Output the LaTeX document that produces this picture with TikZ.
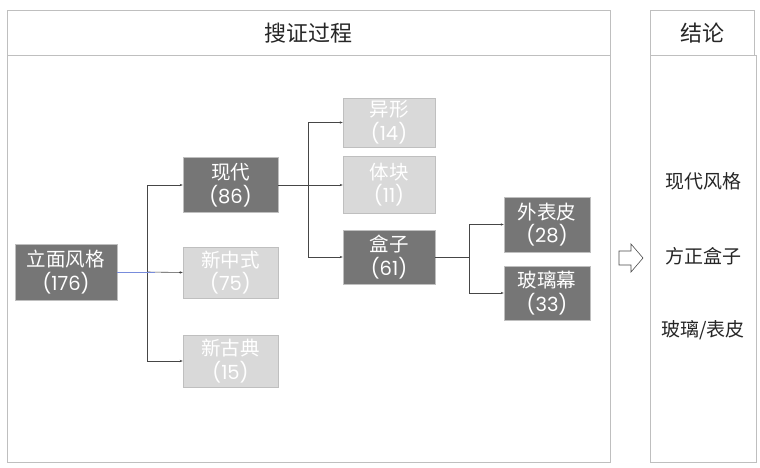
\documentclass[tikz,border=0pt]{standalone}
\usepackage{fontspec}
\setmainfont{Noto Sans CJK SC}
\newfontfamily\numfont{Poppins}
\usepackage{tikz}
\usetikzlibrary{arrows.meta,positioning,calc}
\definecolor{boxdark}{RGB}{118,118,118}
\definecolor{boxlight}{RGB}{217,217,217}
\definecolor{panelline}{RGB}{191,191,191}
\definecolor{linkgray}{RGB}{70,70,70}
\definecolor{linkblue}{RGB}{120,140,220}

\tikzset{
  stylebox/.style={draw=panelline, line width=0.6pt, text=white, align=center,
    font=\fontsize{19.5}{23.5}\selectfont, inner sep=0pt},
  darkbox/.style={stylebox, fill=boxdark},
  lightbox/.style={stylebox, fill=boxlight},
  link/.style={draw=linkgray, line width=0.6pt, -{Stealth[length=3pt,width=2.4pt]}},
  panel/.style={draw=panelline, line width=0.8pt},
}

\begin{document}
\begin{tikzpicture}[x=1pt, y=-1pt]
        \useasboundingbox (0,0) rectangle (760,468);
        \fill[white] (0,0) rectangle (760,468);

        % Panels
        \draw[panel] (7,10) rectangle (610,462);
        \draw[panel] (7,55) -- (610,55);
        \node[font=\fontsize{22}{26}\selectfont, text=black!85] (ttlproc) at (308,33) {搜证过程};
        \draw[panel] (650,10) rectangle (754,55);
        \draw[panel] (650,55) rectangle (756,462);
        \node[font=\fontsize{22}{26}\selectfont, text=black!85] (ttlconc) at (702,33) {结论};

        % Style tree
        \node[darkbox, minimum width=102pt, minimum height=56pt] (root) at (66,272) {立面风格\\{\numfont(176)}};
        \node[darkbox, minimum width=95pt, minimum height=55pt] (xiandai) at (230.5,185) {现代\\{\numfont(86)}};
        \node[lightbox, minimum width=95pt, minimum height=51pt] (xinzhong) at (230.5,272.5) {新中式\\{\numfont(75)}};
        \node[lightbox, minimum width=95pt, minimum height=52pt] (xingu) at (230.5,361) {新古典\\{\numfont(15)}};
        \node[lightbox, minimum width=92pt, minimum height=49pt] (yixing) at (389,122.5) {异形\\{\numfont(14)}};
        \node[lightbox, minimum width=92pt, minimum height=57pt] (tikuai) at (389,184.5) {体块\\{\numfont(11)}};
        \node[darkbox, minimum width=92pt, minimum height=54pt] (hezi) at (389,257) {盒子\\{\numfont(61)}};
        \node[darkbox, minimum width=86pt, minimum height=55pt] (waibiao) at (547,224.5) {外表皮\\{\numfont(28)}};
        \node[darkbox, minimum width=86pt, minimum height=54pt] (boli) at (547,293) {玻璃幕\\{\numfont(33)}};

        % Junctions
        \coordinate (j1) at (147,272);
        \coordinate (j2) at (308,185);
        \coordinate (j3) at (469,257);

        % Connectors
        \draw[link] (j1) |- (xiandai.west);
        \draw[link] (j1) |- (xingu.west);
        \draw[link] (j1) -- (xinzhong.west);
        \draw[draw=linkblue, line width=0.6pt] (root.east) -- ($(j1)+(8,0)$);
        \draw[link] (xiandai.east) -- (xiandai.east -| tikuai.west);
        \draw[link] (j2) |- (yixing.west);
        \draw[link] (j2) |- (hezi.west);
        \draw[link] (hezi.east) -- (j3) |- (waibiao.west);
        \draw[link] (j3) |- (boli.west);

        % Hollow arrow
        \draw[draw=black!70, line width=0.6pt, fill=white]
            (619,251) -- (631,251) -- (631,244) -- (643,258) -- (631,272) -- (631,265) -- (619,265) -- cycle;

        % Conclusions
        \node[font=\fontsize{19}{23}\selectfont, text=black!85] (c1) at (703,181) {现代风格};
        \node[font=\fontsize{19}{23}\selectfont, text=black!85] (c2) at (703,256) {方正盒子};
        \node[font=\fontsize{19}{23}\selectfont, text=black!85] (c3) at (703,330) {玻璃/表皮};
    \end{tikzpicture}
\end{document}
